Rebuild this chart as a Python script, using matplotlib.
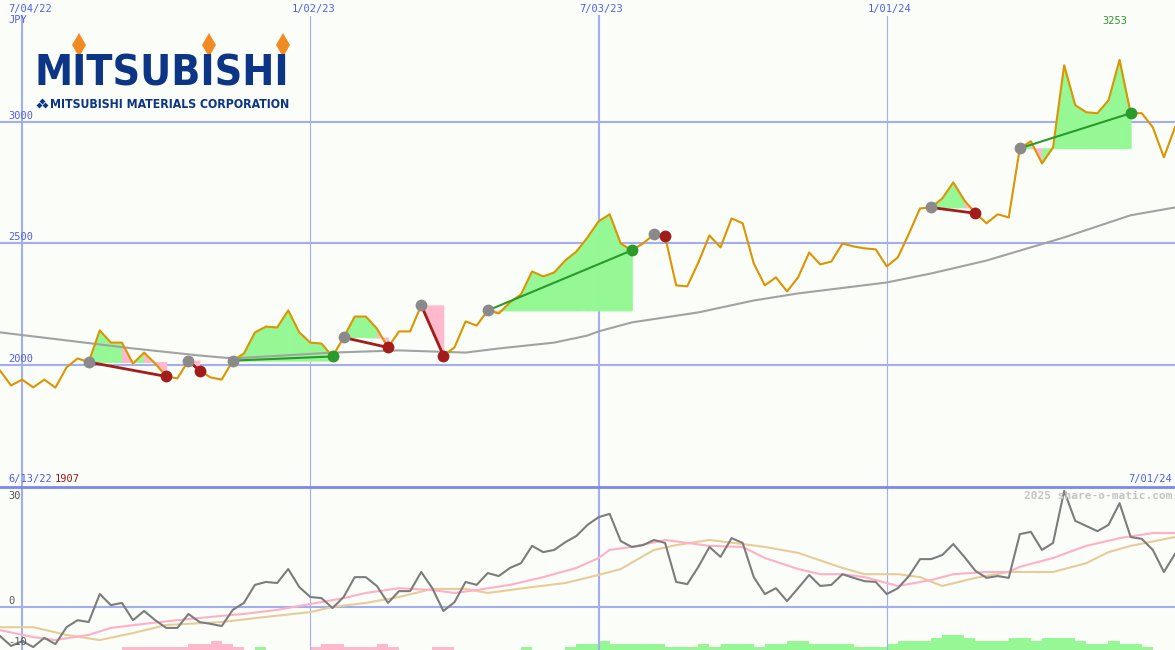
import numpy as np
import pandas as pd
import matplotlib
matplotlib.use("Agg")
import matplotlib.pyplot as plt
import matplotlib.dates as mdates
from matplotlib import font_manager
from matplotlib.font_manager import FontProperties
from datetime import datetime

# ---------------- data ----------------
dates = pd.date_range("2022-06-20", periods=107, freq="7D")

price = [1977, 1916, 1940, 1908, 1940, 1907, 1990, 2027, 2012, 2142,
         2092, 2092, 2006, 2051, 2006, 1953, 1945, 2018, 1977, 1949,
         1940, 2018, 2047, 2134, 2158, 2154, 2224, 2134, 2092, 2088,
         2035, 2113, 2199, 2199, 2150, 2072, 2138, 2138, 2245, 2142,
         2039, 2072, 2179, 2162, 2224, 2212, 2257, 2290, 2384, 2364,
         2380, 2430, 2466, 2524, 2590, 2619, 2499, 2471, 2499, 2536,
         2528, 2327, 2323, 2421, 2532, 2483, 2602, 2582, 2417, 2327,
         2360, 2302, 2360, 2462, 2413, 2425, 2499, 2487, 2479, 2475,
         2405, 2442, 2540, 2643, 2647, 2684, 2750, 2676, 2623, 2582,
         2619, 2606, 2890, 2919, 2828, 2894, 3231, 3067, 3038, 3034,
         3087, 3253, 3034, 3034, 2976, 2853, 2976]

ma_weeks = [0, 6, 12, 18, 21, 27, 30, 36, 42, 45, 50, 53, 54, 57, 63, 68,
            72, 80, 84, 89, 96, 102, 106]
ma_values = [2134, 2101, 2068, 2039, 2027, 2043, 2051, 2060, 2051, 2068, 2092,
             2121, 2138, 2175, 2216, 2265, 2294, 2339, 2376, 2429, 2524, 2615, 2647]

entries = [8, 17, 21, 31, 38, 44, 59, 84, 92]
exits = [15, 18, 30, 35, 40, 57, 60, 88, 102]

momentum = [-7.8, -10.5, -9.2, -10.8, -8.3, -10.0, -5.4, -3.5, -4.0, 3.6,
            0.6, 1.2, -3.5, -1.0, -3.5, -5.6, -5.6, -1.8, -4.0, -4.5,
            -5.1, -0.7, 1.2, 6.1, 6.9, 6.6, 10.4, 5.5, 2.8, 2.5,
            -0.2, 2.8, 8.2, 8.2, 5.8, 1.2, 4.4, 4.4, 9.6, 5.2,
            -1.0, 1.4, 6.9, 6.1, 9.3, 8.5, 10.7, 12.0, 16.7, 15.0,
            15.6, 17.7, 19.4, 22.4, 24.5, 25.4, 18.0, 16.4, 16.9, 18.3,
            17.5, 6.9, 6.3, 11.0, 16.4, 13.7, 18.8, 17.5, 8.2, 3.6,
            5.2, 1.7, 5.2, 8.8, 5.8, 6.1, 9.0, 8.0, 7.1, 6.9,
            3.6, 5.2, 8.5, 13.1, 13.1, 14.2, 17.2, 13.7, 9.9, 8.0,
            8.5, 8.0, 19.9, 20.5, 15.6, 17.5, 31.6, 23.5, 22.1, 20.7,
            22.4, 28.3, 19.1, 18.6, 15.6, 9.6, 14.5]

pink_weeks = [0, 3, 5, 8, 10, 13, 16, 19, 22, 25, 28, 31, 33, 36, 39, 41, 43,
              46, 49, 52, 54, 55, 57, 60, 62, 64, 67, 69, 72, 74, 76, 78, 80,
              81, 84, 86, 89, 91, 92, 95, 98, 101, 104, 106]
pink_values = [-6.2, -8.1, -8.9, -7.5, -5.6, -4.5, -3.5, -2.6, -1.8, -0.7, 0.9,
               2.5, 3.9, 5.2, 4.7, 3.9, 4.7, 6.1, 8.2, 10.7, 13.4, 15.6, 16.4,
               18.3, 17.5, 16.7, 16.4, 13.4, 10.4, 9.0, 9.0, 8.2, 6.6, 5.8, 7.4,
               9.0, 9.6, 9.6, 11.0, 13.4, 16.7, 18.8, 20.2, 20.2]

tan_weeks = [0, 3, 6, 9, 12, 15, 20, 24, 28, 30, 33, 36, 39, 42, 44, 48, 51,
             54, 56, 59, 61, 64, 67, 69, 72, 76, 78, 81, 83, 85, 88, 91, 95,
             98, 100, 102, 106]
tan_values = [-5.4, -5.4, -7.5, -8.9, -7.0, -4.8, -4.0, -2.6, -1.3, 0.1, 1.2,
              2.8, 5.0, 5.0, 3.9, 5.5, 6.6, 8.8, 10.4, 15.6, 16.9, 18.3, 17.2,
              16.4, 14.8, 10.7, 9.0, 9.0, 8.2, 5.8, 8.0, 9.6, 9.6, 12.0, 15.0,
              16.7, 19.1]

bars = [0, 0, 0, 0, 0, 0, 0, 0, 0, 0,
        0, -1, -1, -1, -1, -1, -1, -2, -2, -3,
        -2, -1, 0, 1, 0, 0, 0, 0, -1, -2,
        -2, -1, -1, -1, -2, -1, 0, 0, 0, -1,
        -1, 0, 0, 0, 0, 0, 0, 1, 0, 0,
        0, 1, 2, 2, 3, 2, 2, 2, 2, 2,
        1, 1, 1, 2, 1, 2, 2, 2, 1, 2,
        2, 3, 3, 2, 2, 2, 2, 1, 1, 1,
        2, 3, 3, 3, 4, 5, 5, 4, 3, 3,
        3, 4, 4, 3, 4, 4, 4, 3, 2, 2,
        3, 2, 2, 1, 0, 0, 0]

date_labels = ["7/04/22", "1/02/23", "7/03/23", "1/01/24"]
price_ticks = [2000, 2500, 3000]

# ---------------- style ----------------
BG = "#fbfdf9"
GRID = "#a3aef0"
SEP = "#7b88ee"
BLUE_TXT = "#4f5ef0"
ORANGE = "#dc9400"
GREEN_FILL = "#95f895"
PINK_FILL = "#ffb8cc"
MONO = "DejaVu Sans Mono"

xs = mdates.date2num(dates.to_pydatetime())
price = np.array(price, dtype=float)

fig = plt.figure(figsize=(11.75, 6.5), dpi=100)
fig.patch.set_facecolor(BG)
ax1 = fig.add_axes([0, 163 / 650, 1, 487 / 650])
ax2 = fig.add_axes([0, 0, 1, 163 / 650])
for ax in (ax1, ax2):
    ax.set_facecolor(BG)
    ax.set_xlim(xs[0], xs[-1])
    for s in ax.spines.values():
        s.set_visible(False)
    ax.set_xticks([])
    ax.set_yticks([])
ax1.set_ylim(1499, 3499)
ax2.set_ylim(-11.6, 32.7)

# grid
grid_dates = [datetime.strptime(d, "%m/%d/%y") for d in date_labels]
for d in grid_dates:
    lw = 1.5 if d.month == 7 else 0.8
    xd = mdates.date2num(d)
    ax1.axvline(xd, ymax=1 - 16 / 487, color=GRID, lw=lw, zorder=1)
    ax2.axvline(xd, color=GRID, lw=lw, zorder=1)
for v in price_ticks:
    ax1.axhline(v, color=GRID, lw=1.5, zorder=1)
ax2.axhline(0, color=GRID, lw=1.5, zorder=1)

# trade fills
for e, x_ in zip(entries, exits):
    lvl = price[e]
    for i in range(e, x_):
        col = GREEN_FILL if price[i + 1] >= lvl else PINK_FILL
        ax1.fill_between(xs[i:i + 2], price[i:i + 2], lvl, color=col,
                         lw=0.6, edgecolor=col, zorder=2)

ax1.plot(xs[ma_weeks], ma_values, color="#a2a2a2", lw=1.5, zorder=3)
ax1.plot(xs, price, color=ORANGE, lw=1.5, zorder=4)

for e, x_ in zip(entries, exits):
    win = price[x_] > price[e]
    lc = "#2a9a2a" if win else "#a31c1c"
    ax1.plot([xs[e], xs[x_]], [price[e], price[x_]], color=lc,
             lw=1.5 if win else 2.0, zorder=5)
    ax1.plot(xs[e], price[e], "o", ms=8.5, color="#8a8a8a", zorder=6, mew=0)
    ax1.plot(xs[x_], price[x_], "o", ms=8.5, color=lc, zorder=6, mew=0)

# lower panel
ax3 = ax2.twinx()
ax3.set_ylim(0, 163 / 3)
ax3.set_xlim(xs[0], xs[-1])
ax3.set_yticks([])
for s in ax3.spines.values():
    s.set_visible(False)
bar_arr = np.array(bars, dtype=float)
bar_cols = [GREEN_FILL if b > 0 else PINK_FILL for b in bar_arr]
ax3.bar(xs, np.abs(bar_arr), width=7, align="edge", color=bar_cols, lw=0, zorder=1)
ax3.set_zorder(ax2.get_zorder() - 1)
ax2.patch.set_visible(False)
ax3.patch.set_facecolor(BG)

ax2.plot(xs[tan_weeks], tan_values, color="#e6cc98", lw=1.5, zorder=3)
ax2.plot(xs[pink_weeks], pink_values, color="#ffb0c6", lw=1.5, zorder=3)
ax2.plot(xs, momentum, color="#7c7c7c", lw=1.5, zorder=4)

# ---------------- overlay text (pixel coords) ----------------
ov = fig.add_axes([0, 0, 1, 1])
ov.set_xlim(0, 1175)
ov.set_ylim(650, 0)
ov.axis("off")
ov.patch.set_visible(False)
ov.axhline(487, color=SEP, lw=2)

fs = 7.5
ov.text(8, 9, date_labels[0], ha="left", va="center", color=BLUE_TXT, family=MONO, fontsize=fs)
for lab, d in zip(date_labels[1:], grid_dates[1:]):
    px = (mdates.date2num(d) - xs[0]) / (xs[-1] - xs[0]) * 1175
    ov.text(px + 3, 9, lab, ha="center", va="center", color=BLUE_TXT, family=MONO, fontsize=fs)
ov.text(8, 20, "JPY", ha="left", va="center", color=BLUE_TXT, family=MONO, fontsize=fs)
for v in price_ticks:
    py = (3499 - v) / (3499 - 1499) * 487
    ov.text(8, py - 6, str(v), ha="left", va="center", color=BLUE_TXT, family=MONO, fontsize=fs)
ov.text(1115, 21, str(int(price.max())), ha="center", va="center", color="#2a9a2a", family=MONO, fontsize=fs)
ov.text(8, 479, "6/13/22", ha="left", va="center", color=BLUE_TXT, family=MONO, fontsize=fs)
ov.text(55, 479, str(int(price.min())), ha="left", va="center", color="#a01818", family=MONO, fontsize=fs)
ov.text(1172, 479, "7/01/24", ha="right", va="center", color=BLUE_TXT, family=MONO, fontsize=fs)
ov.text(8, 496, "30", ha="left", va="center", color="#555555", family=MONO, fontsize=fs)
ov.text(8, 601, "0", ha="left", va="center", color="#555555", family=MONO, fontsize=fs)
ov.text(8, 642, "-10", ha="left", va="center", color="#555555", family=MONO, fontsize=fs)
ov.text(1172, 496, "2025 share-o-matic.com", ha="right", va="center", color="#c4c4c4",
        family=MONO, fontsize=8, fontweight="bold")

# logo: prefer a condensed / narrow bold face if one is installed
cands = []
for f in font_manager.fontManager.ttflist:
    narrow = ("Narrow" in f.name or "Condensed" in f.name or
              str(f.stretch) in ("condensed", "semi-condensed", "extra-condensed") or
              "Condensed" in f.fname or "Narrow" in f.fname)
    if narrow:
        wt = f.weight if isinstance(f.weight, int) else (700 if "bold" in str(f.weight).lower() else 400)
        cands.append((abs(wt - 700), "Italic" in f.fname or f.style != "normal", f.fname))
cands.sort()
if cands and not cands[0][1]:
    logo_fp = FontProperties(fname=cands[0][2])
else:
    logo_fp = FontProperties(family="DejaVu Sans", weight="bold")

NAVY = "#0c3585"
renderer = fig.canvas.get_renderer()


def fit_text(x, y, s, width, size, va):
    fp = logo_fp.copy()
    fp.set_size(size)
    t = ov.text(x, y, s, ha="left", va=va, color=NAVY, fontproperties=fp)
    w = t.get_window_extent(renderer).width
    fp.set_size(size * width / w)
    t.set_fontproperties(fp)
    return t


fit_text(35, 95, "MITSUBISHI", 255, 40, "bottom")
fit_text(50, 108, "MITSUBISHI MATERIALS CORPORATION", 240, 10, "baseline")
for dx, dy in [(79, 45), (209, 45), (283, 45)]:
    ov.plot(dx, dy, marker="d", ms=12, color="#f28a22", mew=0)
for dx, dy in [(42, 100.5), (39.2, 105.3), (44.8, 105.3)]:
    ov.plot(dx, dy, marker="D", ms=3, color=NAVY, mew=0)

fig.savefig("out.png", dpi=100, facecolor=BG)
